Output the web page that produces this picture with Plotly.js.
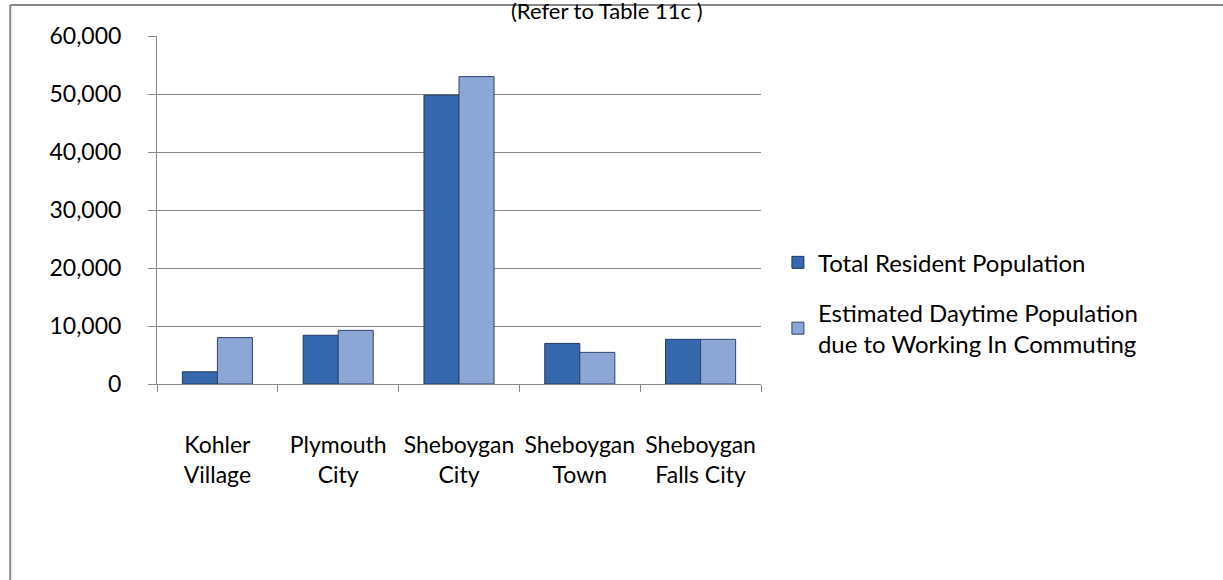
<!DOCTYPE html>
<html>
<head>
<meta charset="utf-8">
<script src="https://cdn.plot.ly/plotly-3.0.1.min.js"></script>
<style>
  html, body { margin: 0; padding: 0; background: #fff; }
  #chart { width: 1223px; height: 580px; }
</style>
</head>
<body>
<div id="chart"></div>
<script>
const categories = ["Kohler<br>Village", "Plymouth<br>City", "Sheboygan<br>City", "Sheboygan<br>Town", "Sheboygan<br>Falls City"];
const residentPopulation = [2100, 8400, 49800, 7000, 7700];
const daytimePopulation = [8000, 9250, 53000, 5450, 7700];
const seriesNames = ["Total Resident Population", "Estimated Daytime Population<br>due to Working In Commuting"];
const yTicks = [0, 10000, 20000, 30000, 40000, 50000, 60000];
const titleText = "(Refer to Table 11c )";

const font = "Lato, 'Open Sans', sans-serif";
const fs = 23;

const traces = [
  {
    type: "bar", x: categories, y: residentPopulation, name: seriesNames[0],
    legendgroup: "a",
    marker: { color: "#3668AD", line: { color: "#1E3A62", width: 1 } }
  },
  {
    type: "bar", x: categories, y: daytimePopulation, name: seriesNames[1],
    legendgroup: "b",
    marker: { color: "#8CA7D6", line: { color: "#2F4467", width: 1 } }
  }
];

const layout = {
  width: 1223, height: 580,
  margin: { l: 157, r: 462, t: 36, b: 196, pad: 0 },
  paper_bgcolor: "#fff", plot_bgcolor: "#fff",
  font: { family: font, size: fs, color: "#000" },
  barmode: "group", bargap: 0.42, bargroupgap: 0,
  showlegend: true,
  legend: {
    x: 1.028, y: 0.232, xanchor: "left", yanchor: "middle",
    font: { family: font, size: 24, color: "#000" },
    tracegroupgap: 16, itemwidth: 30,
    bgcolor: "rgba(0,0,0,0)"
  },
  xaxis: {
    type: "category", tickson: "boundaries",
    ticks: "outside", ticklen: 7, tickcolor: "#888", tickwidth: 1,
    showline: true, linecolor: "#888", linewidth: 1,
    showgrid: false, mirror: false,
    ticklabelstandoff: 40,
    tickfont: { family: font, size: fs, color: "#000" },
    automargin: false
  },
  yaxis: {
    range: [0, 60000], tickvals: yTicks, tickformat: ",",
    ticks: "outside", ticklen: 8, tickcolor: "#888", tickwidth: 1,
    showline: true, linecolor: "#888", linewidth: 1,
    showgrid: true, gridcolor: "#888", gridwidth: 1,
    zeroline: false,
    ticklabelstandoff: 22,
    tickfont: { family: font, size: fs, color: "#000" },
    automargin: false
  },
  shapes: [
    { type: "line", xref: "paper", yref: "paper", x0: -0.243, x1: 1.77, y0: 1.089, y1: 1.089, line: { color: "#888", width: 2 } },
    { type: "line", xref: "paper", yref: "paper", x0: -0.243, x1: -0.243, y0: 1.089, y1: -0.6, line: { color: "#888", width: 2 } }
  ],
  annotations: [
    { text: titleText, xref: "paper", yref: "paper", x: 0.745, y: 1.072, yanchor: "middle", xanchor: "center", showarrow: false, font: { family: font, size: 22, color: "#000" } }
  ]
};

Plotly.newPlot("chart", traces, layout, { displayModeBar: false, staticPlot: true });
</script>
</body>
</html>
